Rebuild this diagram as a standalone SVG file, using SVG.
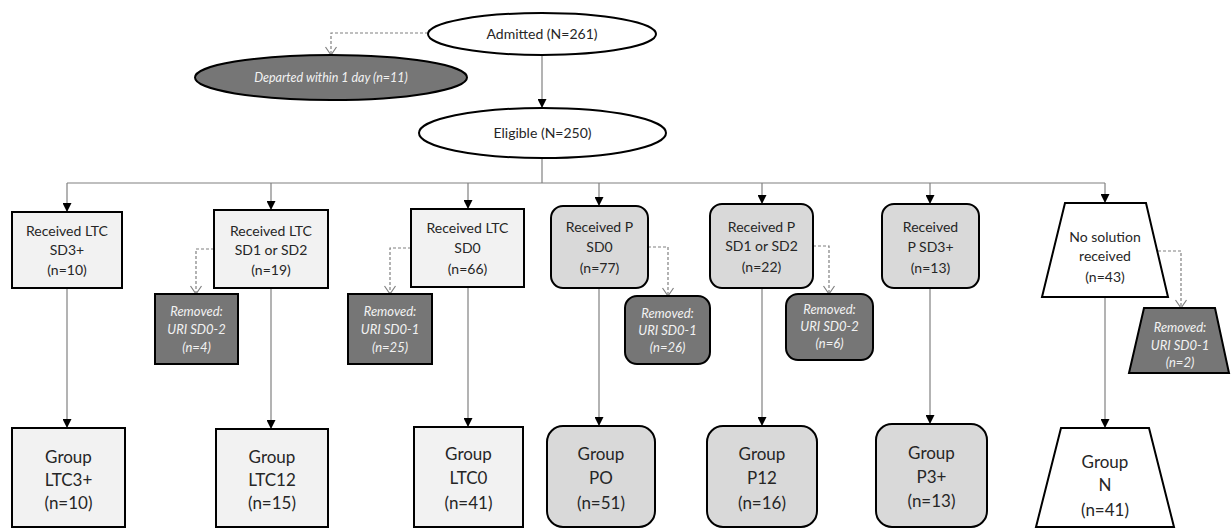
<svg xmlns="http://www.w3.org/2000/svg" width="1231" height="529" viewBox="0 0 1231 529">
<style>
  .n { stroke:#000; stroke-width:2; }
  .wh { fill:#fff; }
  .lt { fill:#f2f2f2; }
  .pg { fill:#d9d9d9; }
  .rm { fill:#767676; }
  text { font-family:Lato, "Liberation Sans", sans-serif; text-anchor:middle; }
  .t14 { font-size:14px; fill:#262626; }
  .t17 { font-size:17px; fill:#262626; }
  .ti { font-size:13px; font-style:italic; fill:#f2f2f2; }
  .td { font-size:12.5px; font-style:italic; fill:#f2f2f2; }
  .c { fill:none; stroke:#808080; stroke-width:1.2; }
  .d { fill:none; stroke:#808080; stroke-width:1.2; stroke-dasharray:3 2; }
</style>
<defs>
  <marker id="ah" markerUnits="userSpaceOnUse" markerWidth="9" markerHeight="9" refX="9" refY="4.5" orient="auto">
    <path d="M0,0 L9,4.5 L0,9 z" fill="#000"/>
  </marker>
  <marker id="ov" markerUnits="userSpaceOnUse" markerWidth="10" markerHeight="12" refX="8" refY="5.5" orient="auto" overflow="visible">
    <path d="M0,0 L8,5.5 L0,11" fill="none" stroke="#808080" stroke-width="1.2"/>
  </marker>
</defs>

<g id="connectors">
  <path class="d" d="M428,33 H331 V55" marker-end="url(#ov)"/>
  <path class="c" d="M542,55 V108" marker-end="url(#ah)"/>
  <path class="c" d="M542,158 V183"/>
  <path class="c" d="M67,183 H1105"/>
  <path class="c" d="M67,183 V212" marker-end="url(#ah)"/>
  <path class="c" d="M271,183 V210" marker-end="url(#ah)"/>
  <path class="c" d="M468,183 V209" marker-end="url(#ah)"/>
  <path class="c" d="M599,183 V206" marker-end="url(#ah)"/>
  <path class="c" d="M762,183 V204" marker-end="url(#ah)"/>
  <path class="c" d="M930,183 V204" marker-end="url(#ah)"/>
  <path class="c" d="M1105,183 V203" marker-end="url(#ah)"/>
  <path class="d" d="M214,249 H196 V294" marker-end="url(#ov)"/>
  <path class="d" d="M411,248 H390 V294" marker-end="url(#ov)"/>
  <path class="d" d="M648,247 H668 V296" marker-end="url(#ov)"/>
  <path class="d" d="M813,246 H829 V294" marker-end="url(#ov)"/>
  <path class="d" d="M1158,251 H1181 V308" marker-end="url(#ov)"/>
  <path class="c" d="M67,288 V428" marker-end="url(#ah)"/>
  <path class="c" d="M271,288 V429" marker-end="url(#ah)"/>
  <path class="c" d="M468,287 V427" marker-end="url(#ah)"/>
  <path class="c" d="M599,288 V426" marker-end="url(#ah)"/>
  <path class="c" d="M762,288 V426" marker-end="url(#ah)"/>
  <path class="c" d="M930,288 V424" marker-end="url(#ah)"/>
  <path class="c" d="M1105,297 V428" marker-end="url(#ah)"/>
</g>

<g id="admitted">
  <ellipse class="n wh" cx="542" cy="34" rx="114" ry="21"/>
  <text class="t14" x="542" y="39">Admitted (N=261)</text>
</g>
<g id="departed">
  <ellipse class="n rm" cx="331" cy="77.5" rx="136" ry="22.5"/>
  <text class="td" x="331" y="82">Departed within 1 day (n=11)</text>
</g>
<g id="eligible">
  <ellipse class="n wh" cx="542.5" cy="133" rx="123.5" ry="25"/>
  <text class="t14" x="542.5" y="138">Eligible (N=250)</text>
</g>

<g id="ltc-sd3">
  <rect class="n lt" x="12" y="212" width="110" height="76"/>
  <text class="t14" x="67" y="236">Received LTC</text>
  <text class="t14" x="67" y="255">SD3+</text>
  <text class="t14" x="67" y="275">(n=10)</text>
</g>
<g id="ltc-sd12">
  <rect class="n lt" x="214" y="210" width="114" height="78"/>
  <text class="t14" x="271" y="236">Received LTC</text>
  <text class="t14" x="271" y="255">SD1 or SD2</text>
  <text class="t14" x="271" y="275">(n=19)</text>
</g>
<g id="removed-ltc12">
  <rect class="n rm" x="155" y="294" width="83" height="70"/>
  <text class="ti" x="196.5" y="316">Removed:</text>
  <text class="ti" x="196.5" y="334">URI SD0-2</text>
  <text class="ti" x="196.5" y="352">(n=4)</text>
</g>
<g id="ltc-sd0">
  <rect class="n lt" x="411" y="209" width="113" height="78"/>
  <text class="t14" x="467.5" y="233">Received LTC</text>
  <text class="t14" x="467.5" y="253">SD0</text>
  <text class="t14" x="467.5" y="274">(n=66)</text>
</g>
<g id="removed-ltc0">
  <rect class="n rm" x="348" y="294" width="84" height="70"/>
  <text class="ti" x="390" y="316">Removed:</text>
  <text class="ti" x="390" y="334">URI SD0-1</text>
  <text class="ti" x="390" y="352">(n=25)</text>
</g>
<g id="p-sd0">
  <rect class="n pg" x="551" y="206" width="97" height="82" rx="12"/>
  <text class="t14" x="599.5" y="232">Received P</text>
  <text class="t14" x="599.5" y="252">SD0</text>
  <text class="t14" x="599.5" y="273">(n=77)</text>
</g>
<g id="removed-p0">
  <rect class="n rm" x="625" y="296" width="85" height="68" rx="12"/>
  <text class="ti" x="667.5" y="318">Removed:</text>
  <text class="ti" x="667.5" y="335">URI SD0-1</text>
  <text class="ti" x="667.5" y="352">(n=26)</text>
</g>
<g id="p-sd12">
  <rect class="n pg" x="710" y="204" width="103" height="84" rx="12"/>
  <text class="t14" x="761.5" y="232">Received P</text>
  <text class="t14" x="761.5" y="251">SD1 or SD2</text>
  <text class="t14" x="761.5" y="272">(n=22)</text>
</g>
<g id="removed-p12">
  <rect class="n rm" x="786" y="294" width="87" height="66" rx="12"/>
  <text class="ti" x="829.5" y="314">Removed:</text>
  <text class="ti" x="829.5" y="331">URI SD0-2</text>
  <text class="ti" x="829.5" y="348">(n=6)</text>
</g>
<g id="p-sd3">
  <rect class="n pg" x="882" y="204" width="97" height="84" rx="12"/>
  <text class="t14" x="930.5" y="232">Received</text>
  <text class="t14" x="930.5" y="252">P SD3+</text>
  <text class="t14" x="930.5" y="273">(n=13)</text>
</g>
<g id="no-solution">
  <polygon class="n wh" points="1065,203 1146,203 1168,297 1042,297"/>
  <text class="t14" x="1105" y="242">No solution</text>
  <text class="t14" x="1105" y="261">received</text>
  <text class="t14" x="1105" y="282">(n=43)</text>
</g>
<g id="removed-n">
  <polygon class="n rm" points="1144,308 1215,308 1229,373 1129,373"/>
  <text class="ti" x="1180" y="332">Removed:</text>
  <text class="ti" x="1180" y="350">URI SD0-1</text>
  <text class="ti" x="1180" y="367">(n=2)</text>
</g>

<g id="group-ltc3">
  <rect class="n lt" x="12" y="428" width="113" height="99"/>
  <text class="t17" x="68.5" y="463">Group</text>
  <text class="t17" x="68.5" y="486">LTC3+</text>
  <text class="t17" x="68.5" y="509">(n=10)</text>
</g>
<g id="group-ltc12">
  <rect class="n lt" x="216" y="429" width="112" height="98"/>
  <text class="t17" x="272" y="463">Group</text>
  <text class="t17" x="272" y="486">LTC12</text>
  <text class="t17" x="272" y="509">(n=15)</text>
</g>
<g id="group-ltc0">
  <rect class="n lt" x="414" y="427" width="109" height="100"/>
  <text class="t17" x="468.5" y="460">Group</text>
  <text class="t17" x="468.5" y="484">LTC0</text>
  <text class="t17" x="468.5" y="509">(n=41)</text>
</g>
<g id="group-p0">
  <rect class="n pg" x="547" y="426" width="108" height="101" rx="16"/>
  <text class="t17" x="601" y="460">Group</text>
  <text class="t17" x="601" y="484">PO</text>
  <text class="t17" x="601" y="509">(n=51)</text>
</g>
<g id="group-p12">
  <rect class="n pg" x="707" y="426" width="110" height="101" rx="16"/>
  <text class="t17" x="762" y="460">Group</text>
  <text class="t17" x="762" y="484">P12</text>
  <text class="t17" x="762" y="509">(n=16)</text>
</g>
<g id="group-p3">
  <rect class="n pg" x="876" y="424" width="111" height="103" rx="16"/>
  <text class="t17" x="931.5" y="459">Group</text>
  <text class="t17" x="931.5" y="483">P3+</text>
  <text class="t17" x="931.5" y="507">(n=13)</text>
</g>
<g id="group-n">
  <polygon class="n wh" points="1061,428 1149,428 1174,527 1036,527"/>
  <text class="t17" x="1105" y="468">Group</text>
  <text class="t17" x="1105" y="491">N</text>
  <text class="t17" x="1105" y="516">(n=41)</text>
</g>
</svg>
